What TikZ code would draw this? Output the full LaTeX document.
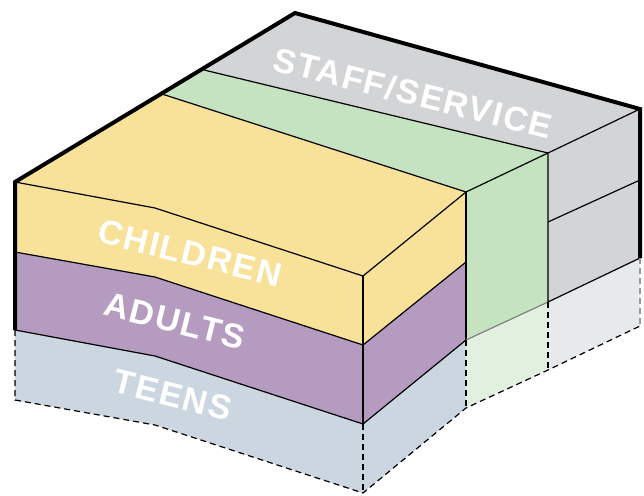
\documentclass[tikz,border=0pt]{standalone}
\usepackage{fontspec}
\newfontfamily\tagfont[LetterSpace=5]{Liberation Sans}
\definecolor{kidsyellow}{HTML}{F8E199}
\definecolor{adultpurple}{HTML}{B49BBF}
\definecolor{teenblue}{HTML}{CBD6E0}
\definecolor{hallgreen}{HTML}{C5E2C1}
\definecolor{hallpale}{HTML}{E2F0DF}
\definecolor{staffgray}{HTML}{D3D4D6}
\definecolor{staffpale}{HTML}{E8E9EB}
\begin{document}
\begin{tikzpicture}[x=1pt,y=-1pt,
    edge/.style={line width=1.2pt,line join=round},
    ghost/.style={line width=1.2pt,dash pattern=on 6pt off 4pt},
    rim/.style={line width=4pt},
    tag/.style={text=white,inner sep=0pt,rotate=-14,
      font=\tagfont\bfseries\fontsize{34}{34}\selectfont}]
  \useasboundingbox (0,0) rectangle (644,495);
  % corners of the block
  \coordinate (back) at (295,13);
  \coordinate (sL) at (204,70);
  \coordinate (gL) at (162,94);
  \foreach \n/\x/\a/\b/\c/\d in {l/15/182/252/330/400, k/155/208/277/356/425,
      f/363/276/345/424/493, g/466/192/262/340/408, s/548/153/222/302/370,
      r/640/109/180/258/326} {
    \coordinate (\n0) at (\x,\a);
    \coordinate (\n1) at (\x,\b);
    \coordinate (\n2) at (\x,\c);
    \coordinate (\n3) at (\x,\d);
  }
  % top faces
  \fill[staffgray] (sL) -- (back) -- (r0) -- (s0) -- cycle;
  \fill[hallgreen] (gL) -- (sL) -- (s0) -- (g0) -- cycle;
  \fill[kidsyellow] (l0) -- (gL) -- (g0) -- (f0) -- (k0) -- cycle;
  % front faces
  \fill[kidsyellow] (l0) -- (k0) -- (f0) -- (f1) -- (k1) -- (l1) -- cycle;
  \fill[adultpurple] (l1) -- (k1) -- (f1) -- (f2) -- (k2) -- (l2) -- cycle;
  \fill[teenblue] (l2) -- (k2) -- (f2) -- (f3) -- (k3) -- (l3) -- cycle;
  % side faces
  \fill[kidsyellow] (f0) -- (g0) -- (g1) -- (f1) -- cycle;
  \fill[adultpurple] (f1) -- (g1) -- (g2) -- (f2) -- cycle;
  \fill[teenblue] (f2) -- (g2) -- (g3) -- (f3) -- cycle;
  \fill[hallgreen] (g0) -- (s0) -- (s2) -- (g2) -- cycle;
  \fill[hallpale] (g2) -- (s2) -- (s3) -- (g3) -- cycle;
  \fill[staffgray] (s0) -- (r0) -- (r2) -- (s2) -- cycle;
  \fill[staffpale] (s2) -- (r2) -- (r3) -- (s3) -- cycle;
  % edges
  \begin{scope}[edge]
    \draw (sL) -- (s0) -- (r0);
    \draw (gL) -- (g0) -- (s0);
    \draw (l0) -- (k0) -- (f0) -- (g0);
    \draw (l1) -- (k1) -- (f1) -- (g1);
    \draw (l2) -- (k2) -- (f2) -- (g2);
    \draw (f0) -- (f2);
    \draw (g0) -- (g2);
    \draw (s0) -- (s2) -- (r2);
    \draw (s1) -- (r1);
    \draw[black!50] (g2) -- (s2);
  \end{scope}
  \begin{scope}[ghost]
    \draw (l2) -- (l3) -- (k3) -- (f3) -- (g3) -- (s3) -- (r3);
    \draw (f2) -- (f3);
    \draw (g2) -- (g3);
    \draw (s2) -- (s3);
    \draw[white!60!black] (r2) -- (r3);
  \end{scope}
  \draw[rim] (l2) -- (l0) -- (back) -- (r0) -- (r2);
  % labels
  \node[tag] (staff) at (413,93) {STAFF/SERVICE};
  \node[tag] (kids) at (190,253) {CHILDREN};
  \node[tag] (adults) at (175,321) {ADULTS};
  \node[tag] (teens) at (173,395) {TEENS};
\end{tikzpicture}
\end{document}
